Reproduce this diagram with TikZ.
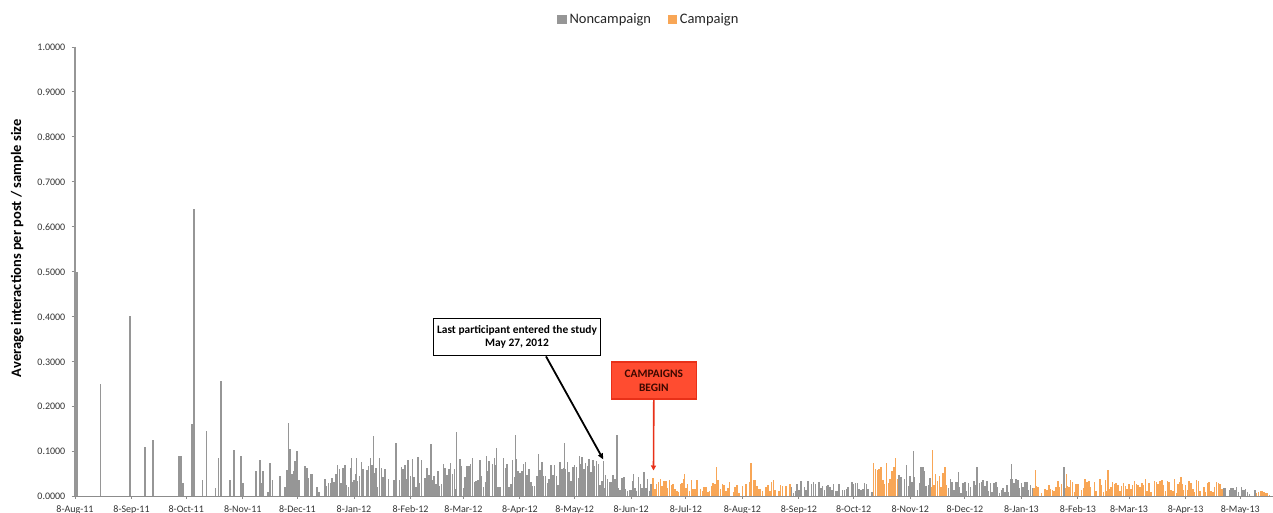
\documentclass[tikz,border=0pt]{standalone}
\usepackage{fontspec}
\setmainfont{Carlito}
\usetikzlibrary{positioning, arrows.meta}

\definecolor{noncampc}{RGB}{150,150,150}
\definecolor{campc}{RGB}{248,166,86}
\definecolor{axisc}{RGB}{140,140,140}
\definecolor{redfill}{RGB}{255,76,48}
\definecolor{redline}{RGB}{232,48,24}
\definecolor{redtext}{RGB}{60,8,0}

\begin{document}
\begin{tikzpicture}[x=1pt,y=-1pt,
 axis line/.style={draw=axisc,line width=0.9pt},
 ytick label/.style={anchor=east,font=\fontsize{10}{12}\selectfont,text=black!80,inner sep=0pt},
 xtick label/.style={anchor=base,font=\fontsize{10}{12}\selectfont,text=black!80,inner sep=0pt},
 leg sq/.style={minimum size=9.4pt,inner sep=0pt},
 leg text/.style={font=\fontsize{14.5}{16}\selectfont,inner sep=0pt,text=black!85},
 ann box/.style={draw=black,line width=1.8pt,fill=white,align=center,
   font=\fontsize{11.4}{12.5}\selectfont\bfseries,minimum width=167pt,minimum height=37pt,inner sep=1pt},
 camp box/.style={draw=redline,line width=1.5pt,fill=redfill,align=center,text=redtext,
   font=\fontsize{11.4}{14}\selectfont\bfseries,minimum width=85pt,minimum height=37pt,inner sep=1pt}]
 \useasboundingbox (0,0) rectangle (1273,513);

 % legend
 \node[leg sq,fill=noncampc](ncsq) at (562,19.6){};
 \node[leg text,right=2.5pt of ncsq](nclab){Noncampaign};
 \node[leg sq,fill=campc,right=16pt of nclab](csq){};
 \node[leg text,right=2.5pt of csq](clab){Campaign};

 % y axis
 \node[rotate=90,font=\fontsize{14.5}{16}\selectfont\bfseries,inner sep=0pt](ytitle) at (17.3,248.3){Average interactions per post / sample size};
 \draw[axis line] (75,47) -- (75,496);
 \foreach \v/\t in {0/0.0000, 1/0.1000, 2/0.2000, 3/0.3000, 4/0.4000, 5/0.5000,
                    6/0.6000, 7/0.7000, 8/0.8000, 9/0.9000, 10/1.0000}{
     \draw[axis line] (71.5,{496-44.9*\v}) -- (75,{496-44.9*\v});
     \node[ytick label](yl\v) at (65.5,{496.5-44.9*\v}){\t};}

 % sparse early bars
 \foreach \x/\v in {75.3/1.0, 77/0.5, 100.5/0.25, 130/0.4, 144.8/0.11, 153/0.125,
     179.3/0.09, 181.3/0.09, 183/0.03, 191.7/0.16, 193.8/0.64, 202.5/0.035, 206.5/0.145,
     215.5/0.018, 218.5/0.085, 221.2/0.257, 230/0.035, 233.6/0.103, 241.2/0.09, 243.2/0.03,
     255.7/0.055, 259.7/0.08, 261.5/0.03, 263.3/0.055, 268/0.01, 270.3/0.073, 272.5/0.036,
     279.6/0.045, 285/0.02, 286.7/0.057, 288.4/0.163, 290.1/0.105, 291.8/0.05, 293.5/0.055,
     295.3/0.078, 297.2/0.1, 299/0.035, 304.7/0.067, 306.6/0.062, 308.5/0.04, 310.4/0.048,
     312.3/0.05, 317.3/0.02, 319.2/0.01}{
     \fill[noncampc] (\x-0.9,496) rectangle (\x+0.9,{496-449*\v});}

 % daily bars
 \pgfmathsetseed{2012}
 \foreach \d in {137,...,655}{
     \pgfmathsetmacro\bx{75+1.8235*\d}
     \pgfmathsetmacro\env{\bx<360?0.07:(\bx<600?0.08:(\bx<654?0.05:(\bx<790?0.035:(\bx<872?0.032:(\bx<950?0.06:(\bx<1222?0.035:(\bx<1250?0.018:0.012)))))))}
     \pgfmathsetmacro\bh{rnd<0.08?0:\env*(0.2+0.9*rnd)}
     \pgfmathtruncatemacro\camp{((\bx>=653&&\bx<790)||(\bx>=872&&\bx<898)||(\bx>=931&&\bx<947)||(\bx>=1034&&\bx<1222)||\bx>=1255)?1:0}
     \ifnum\camp=1 \def\bc{campc}\else\def\bc{noncampc}\fi
     \fill[\bc] (\bx-0.75,496) rectangle (\bx+0.75,{496-449*\bh});}

 % peaks
 \foreach \x/\v in {351.7/0.085, 356.7/0.085, 373.3/0.133, 396/0.117, 408/0.08, 431/0.115,
     456.7/0.142, 486.7/0.09, 496.7/0.108, 515.7/0.136, 538.7/0.094, 564.3/0.118, 579.3/0.088,
     603.3/0.078, 617/0.135, 633.3/0.05, 906.7/0.07, 913.3/0.1, 924/0.056, 958.7/0.053,
     977/0.065, 1011.7/0.072, 1064/0.065, 1241.7/0.02}{
     \fill[noncampc] (\x-0.75,496) rectangle (\x+0.75,{496-449*\v});}
 \foreach \x/\v in {684.3/0.048, 716.7/0.065, 751/0.074, 873.3/0.074, 881/0.054, 886.3/0.074,
     895.7/0.085, 932.3/0.102, 1035.7/0.057, 1066.7/0.05, 1085/0.037, 1108/0.057, 1181/0.042,
     1220.7/0.027}{
     \fill[campc] (\x-0.75,496) rectangle (\x+0.75,{496-449*\v});}

 % x axis
 \draw[axis line] (75,496) -- (1273,496);
 \foreach \d/\m in {0/8-Aug-11, 31/8-Sep-11, 61/8-Oct-11, 92/8-Nov-11, 122/8-Dec-11,
     153/8-Jan-12, 184/8-Feb-12, 213/8-Mar-12, 244/8-Apr-12, 274/8-May-12, 305/8-Jun-12,
     335/8-Jul-12, 366/8-Aug-12, 397/8-Sep-12, 427/8-Oct-12, 458/8-Nov-12, 488/8-Dec-12,
     519/8-Jan-13, 550/8-Feb-13, 578/8-Mar-13, 609/8-Apr-13, 639/8-May-13}{
     \draw[axis line] ({75+1.8235*\d},496) -- ({75+1.8235*\d},499);
     \node[xtick label](xl\d) at ({75+1.8235*\d},512.3){\m};}

 % annotations
 \node[ann box](last) at (517,337){Last participant entered the study\\May 27, 2012};
 \node[camp box](camp) at (653.8,380.5){CAMPAIGNS\\BEGIN};
 \coordinate (lastbar) at (603.3,459.5);
 \coordinate (campstart) at (653.5,470.5);
 \draw[line width=1.8pt,-{Triangle[length=6pt,width=5pt]}] ([xshift=29pt]last.south) -- (lastbar);
 \draw[redline,line width=1.6pt,-{Triangle[length=5pt,width=5pt]}] (camp.south) -- (campstart);
\end{tikzpicture}
\end{document}
